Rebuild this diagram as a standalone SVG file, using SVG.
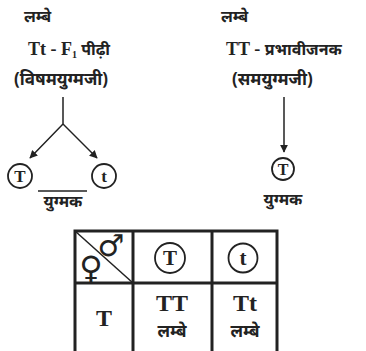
<svg xmlns="http://www.w3.org/2000/svg" width="366" height="351" viewBox="0 0 366 351">
<defs>
<style>
.t{font-family:"Liberation Serif","Noto Serif",serif;font-weight:bold;fill:#222}
.h{font-family:"Noto Sans","Liberation Sans",sans-serif;font-weight:bold;fill:#222}
.ln{stroke:#222;stroke-width:1.5;fill:none}
.c{stroke:#222;stroke-width:1.8;fill:#fff}
.g{stroke:#222;stroke-width:3;fill:none}
</style>
<marker id="ah" viewBox="0 0 10 10" refX="9" refY="5" markerWidth="8" markerHeight="8" orient="auto" markerUnits="userSpaceOnUse">
<path d="M0,0 L10,5 L0,10 z" fill="#222"/>
</marker>
</defs>
<rect width="366" height="351" fill="#fff"/>

<g id="left-parent">
<text class="h" x="24" y="22" font-size="16">लम्बे</text>
<text class="t" x="28" y="55" font-size="18">Tt - F<tspan font-size="10" dy="3">1</tspan><tspan dy="-3" class="h" font-size="16"> पीढ़ी</tspan></text>
<text class="h" x="14" y="85" font-size="17">(विषमयुग्मजी)</text>
</g>

<g id="right-parent">
<text class="h" x="221" y="22" font-size="16">लम्बे</text>
<text class="t" x="226" y="55" font-size="18">TT - <tspan class="h" font-size="16">प्रभावीजनक</tspan></text>
<text class="h" x="232" y="85" font-size="17">(समयुग्मजी)</text>
</g>

<g id="connectors">
<path class="ln" d="M63,97 V124 L30,158" marker-end="url(#ah)"/>
<path class="ln" d="M63,124 L97,158" marker-end="url(#ah)"/>
<path class="ln" d="M284,97 V152" marker-end="url(#ah)"/>
</g>

<g id="left-gametes">
<circle class="c" cx="20" cy="176" r="12"/>
<text class="t" x="20" y="182" font-size="17" text-anchor="middle">T</text>
<circle class="c" cx="104" cy="176" r="12"/>
<text class="t" x="104" y="182" font-size="17" text-anchor="middle">t</text>
<line class="ln" x1="38" y1="191" x2="87" y2="191"/>
<text class="h" x="63" y="207" font-size="16" text-anchor="middle">युग्मक</text>
</g>

<g id="right-gamete">
<circle class="c" cx="283" cy="169" r="11"/>
<text class="t" x="283" y="175" font-size="16" text-anchor="middle">T</text>
<text class="h" x="283" y="205" font-size="16" text-anchor="middle">युग्मक</text>
</g>

<g id="punnett">
<rect class="g" x="75" y="231" width="202" height="130"/>
<line class="g" x1="75" y1="283" x2="277" y2="283"/>
<line class="g" x1="133" y1="231" x2="133" y2="361"/>
<line class="g" x1="212" y1="231" x2="212" y2="361"/>
<line class="ln" stroke-width="2.5" x1="75" y1="231" x2="133" y2="283"/>
<text x="111" y="256" font-size="30" text-anchor="middle" font-family="DejaVu Sans" font-weight="bold" fill="#222">♂</text>
<text x="91" y="279" font-size="32" text-anchor="middle" font-family="DejaVu Sans" font-weight="bold" fill="#222">♀</text>
<circle class="c" cx="170" cy="258" r="15"/>
<text class="t" x="170" y="265" font-size="21" text-anchor="middle">T</text>
<circle class="c" cx="243" cy="258" r="14.5"/>
<text class="t" x="243" y="265" font-size="21" text-anchor="middle">t</text>
<text class="t" x="104" y="326" font-size="24" text-anchor="middle">T</text>
<text class="t" x="172" y="311" font-size="24" text-anchor="middle">TT</text>
<text class="h" x="172" y="337" font-size="17" text-anchor="middle">लम्बे</text>
<text class="t" x="245" y="311" font-size="24" text-anchor="middle">Tt</text>
<text class="h" x="245" y="337" font-size="17" text-anchor="middle">लम्बे</text>
</g>
</svg>
